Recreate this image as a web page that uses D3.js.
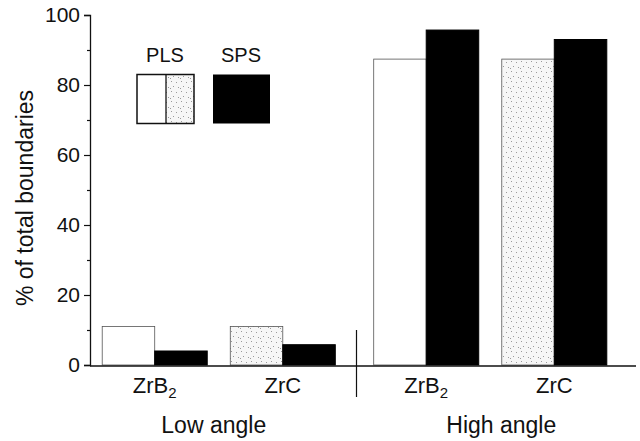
<!DOCTYPE html>
<html>
<head>
<meta charset="utf-8">
<script src="https://cdn.jsdelivr.net/npm/d3@7"></script>
<style>
  body { margin: 0; background: #fff; }
  text { font-family: "Liberation Sans", Arial, sans-serif; fill: #111; }
</style>
</head>
<body>
<div id="chart"></div>
<script>
// Chart data
var groups = ["Low angle", "High angle"];
var materials = ["ZrB2", "ZrC"];
var series = ["PLS", "SPS"];
// order: Low ZrB2, Low ZrC, High ZrB2, High ZrC
var plsValues = [11, 11, 87.4, 87.4];
var spsValues = [4, 5.8, 95.7, 93];
var yTicks = [0, 20, 40, 60, 80, 100];
var yMinorTicks = [10, 30, 50, 70, 90];

var width = 640, height = 441;

var svg = d3.select("#chart").append("svg")
  .attr("width", width)
  .attr("height", height);

// Stipple pattern for ZrC PLS bars
var defs = svg.append("defs");
var pat = defs.append("pattern")
  .attr("id", "stipple")
  .attr("patternUnits", "userSpaceOnUse")
  .attr("width", 10).attr("height", 10);
pat.append("rect").attr("width", 10).attr("height", 10).attr("fill", "#f6f6f6");
[[1, 1], [6, 2], [3, 6], [8, 7], [0, 8]].forEach(function(p) {
  pat.append("rect").attr("x", p[0]).attr("y", p[1])
    .attr("width", 1).attr("height", 1).attr("fill", "#9a9a9a");
});

// Scales
var y = d3.scaleLinear().domain([0, 100]).range([365, 15]);
var xGroup = d3.scaleBand().domain(groups).range([83, 626]).padding(0);
var xMat = d3.scaleBand().domain(materials).range([0, xGroup.bandwidth()])
  .paddingInner(0.18).paddingOuter(0.15);
var xSer = d3.scaleBand().domain(series).range([0, xMat.bandwidth()]).padding(0);

// Flatten data into bars
var bars = [];
groups.forEach(function(g, gi) {
  materials.forEach(function(m, mi) {
    var idx = gi * materials.length + mi;
    bars.push({ group: g, material: m, series: "PLS", value: plsValues[idx] });
    bars.push({ group: g, material: m, series: "SPS", value: spsValues[idx] });
  });
});

function fillFor(d) {
  if (d.series === "SPS") return "#000";
  return d.material === "ZrC" ? "url(#stipple)" : "#fff";
}

svg.append("g").attr("class", "bars")
  .selectAll("rect")
  .data(bars)
  .enter().append("rect")
    .attr("x", function(d) { return xGroup(d.group) + xMat(d.material) + xSer(d.series); })
    .attr("y", function(d) { return y(d.value); })
    .attr("width", xSer.bandwidth())
    .attr("height", function(d) { return y(0) - y(d.value); })
    .attr("fill", fillFor)
    .attr("stroke", function(d) { return d.series === "SPS" ? "#000" : "#555"; })
    .attr("stroke-width", function(d) { return d.series === "SPS" ? 1 : 0.8; });

// Y axis
var yAxis = svg.append("g")
  .attr("transform", "translate(90,0)")
  .call(d3.axisLeft(y).tickValues(yTicks).tickSize(6).tickPadding(4));
yAxis.select(".domain").attr("stroke", "#111").attr("stroke-width", 1.3);
yAxis.selectAll(".tick line").attr("stroke", "#111").attr("stroke-width", 1.2);
yAxis.selectAll(".tick text").style("font-size", "21px").attr("fill", "#111")
  .style("font-family", "'Liberation Sans', Arial, sans-serif");

var yMinor = svg.append("g")
  .attr("transform", "translate(90,0)")
  .call(d3.axisLeft(y).tickValues(yMinorTicks).tickSize(3).tickFormat(""));
yMinor.select(".domain").remove();
yMinor.selectAll(".tick line").attr("stroke", "#111").attr("stroke-width", 1.2);

// X axis line
svg.append("line")
  .attr("x1", 90).attr("x2", 636)
  .attr("y1", y(0) + 1).attr("y2", y(0) + 1)
  .attr("stroke", "#111").attr("stroke-width", 1.3);

// Divider between groups
svg.append("line")
  .attr("x1", xGroup("High angle") + 2).attr("x2", xGroup("High angle") + 2)
  .attr("y1", 330).attr("y2", 397)
  .attr("stroke", "#111").attr("stroke-width", 1.2);

// Material labels
var matLabels = svg.append("g").selectAll("text")
  .data(groups.flatMap(function(g) { return materials.map(function(m) { return { group: g, material: m }; }); }))
  .enter().append("text")
    .attr("x", function(d) { return xGroup(d.group) + xMat(d.material) + xMat.bandwidth() / 2; })
    .attr("y", 393)
    .attr("text-anchor", "middle")
    .style("font-size", "22px");
matLabels.each(function(d) {
  var t = d3.select(this);
  if (d.material === "ZrB2") {
    t.append("tspan").text("ZrB");
    t.append("tspan").attr("dy", 5).style("font-size", "15px").text("2");
  } else {
    t.text(d.material);
  }
});

// Group labels
svg.append("g").selectAll("text")
  .data(groups)
  .enter().append("text")
    .attr("x", function(d, i) { return xGroup(d) + xGroup.bandwidth() / 2 + (i === 0 ? -5 : 11); })
    .attr("y", 433)
    .attr("text-anchor", "middle")
    .style("font-size", "23px")
    .text(function(d) { return d; });

// Y axis title
svg.append("text")
  .attr("transform", "translate(33,198) rotate(-90)")
  .attr("text-anchor", "middle")
  .style("font-size", "23px")
  .text("% of total boundaries");

// Legend
var legend = svg.append("g").attr("class", "legend");
var boxTop = y(83), boxBottom = y(69);
legend.append("rect").attr("x", 137).attr("y", boxTop).attr("width", 29)
  .attr("height", boxBottom - boxTop).attr("fill", "#fff");
legend.append("rect").attr("x", 166).attr("y", boxTop).attr("width", 28)
  .attr("height", boxBottom - boxTop).attr("fill", "url(#stipple)");
legend.append("rect").attr("x", 137).attr("y", boxTop).attr("width", 57)
  .attr("height", boxBottom - boxTop).attr("fill", "none")
  .attr("stroke", "#111").attr("stroke-width", 1.5);
legend.append("line").attr("x1", 166).attr("x2", 166)
  .attr("y1", boxTop).attr("y2", boxBottom)
  .attr("stroke", "#111").attr("stroke-width", 1.3);
legend.append("rect").attr("x", 213).attr("y", boxTop).attr("width", 57)
  .attr("height", boxBottom - boxTop).attr("fill", "#000");

legend.selectAll("text.leg")
  .data(series)
  .enter().append("text")
    .attr("class", "leg")
    .attr("x", function(d, i) { return i === 0 ? 165 : 241; })
    .attr("y", 62)
    .attr("text-anchor", "middle")
    .style("font-size", "20px")
    .text(function(d) { return d; });
</script>
</body>
</html>
